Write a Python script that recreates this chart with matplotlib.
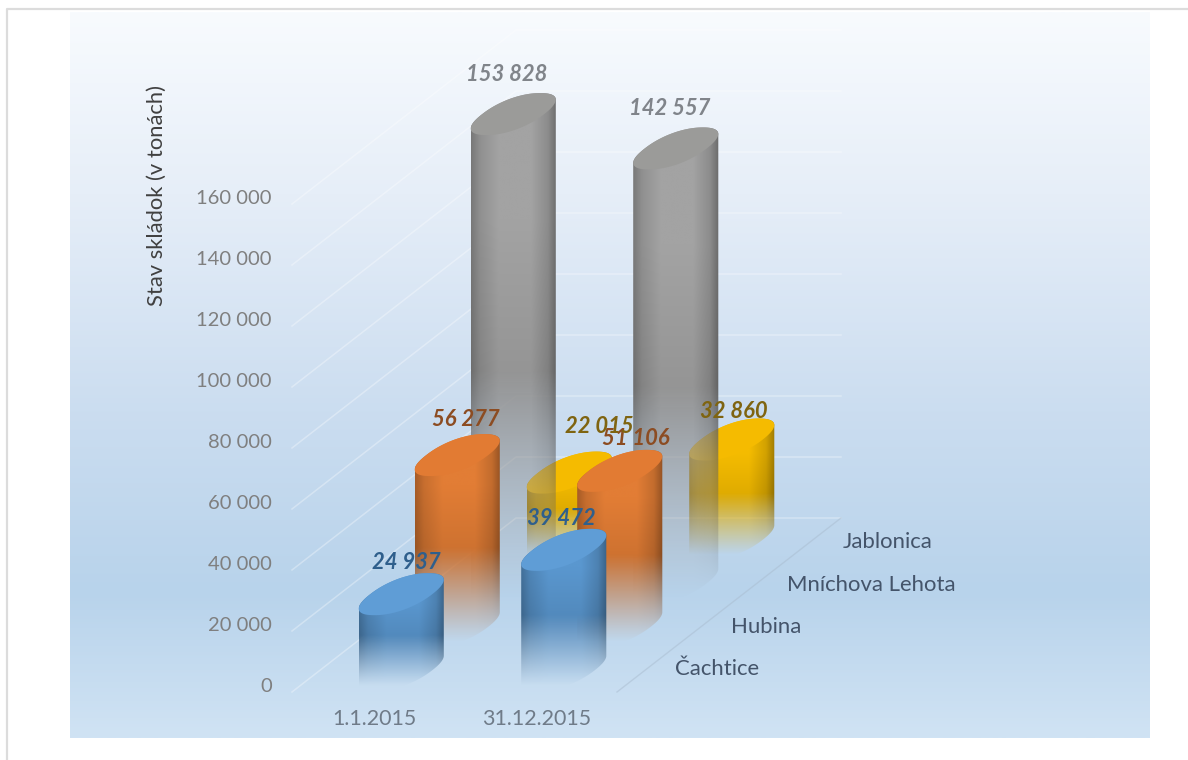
import numpy as np
import matplotlib
matplotlib.use("Agg")
import matplotlib.pyplot as plt
from matplotlib.colors import LinearSegmentedColormap, to_rgb
from matplotlib.patches import Polygon

plt.rcParams['font.family'] = ['Lato', 'DejaVu Sans']

# data
dates = ["1.1.2015", "31.12.2015"]
locations = ["Čachtice", "Hubina", "Mníchova Lehota", "Jablonica"]
cachtice = [24937, 39472]
hubina = [56277, 51106]
mnichova = [153828, 142557]
jablonica = [22015, 32860]
value_ticks = [0, 20000, 40000, 60000, 80000, 100000, 120000, 140000, 160000]

series = [cachtice, hubina, mnichova, jablonica]
body_colors = ["#5a97cf", "#e27d35", "#a3a3a3", "#f5bc00"]
cap_colors = ["#5f9dd6", "#e27b33", "#9b9b99", "#f5bb00"]
label_colors = ["#2f5f8c", "#8c4c22", "#80848a", "#7f6410"]
# hand placed labels, offset from the top of each cylinder
label_offsets = [[(5, -32), (-2, -31)], [(9, -36), (16, -32)],
                 [(-7, -40), (-6, -40)], [(30, -46), (2, -28)]]

# oblique projection, in picture pixels
X0, Y0 = 292, 692
CAT_W = 162.5
DX, DY = 56, -43.5
PX_PER_UNIT = 61 / 20000
A, B, C = 31.0, 27.0, 21.0
ROUND = 0.9  # below 1 the caps come out fuller than a true ellipse


def project(cat, depth, value=0):
    return (X0 + cat * CAT_W + depth * DX,
            Y0 + depth * DY - value * PX_PER_UNIT)


def cap_edge(cx, cy, theta):
    c = np.sign(np.cos(theta)) * np.abs(np.cos(theta)) ** ROUND
    s = np.sign(np.sin(theta)) * np.abs(np.sin(theta)) ** ROUND
    return cx + A * c + B * s, cy - C * s


def thousands(v):
    return f"{v:,}".replace(",", " ")


def draw_cylinder(ax, cat, depth, value, body, cap, z):
    cx, base_y = project(cat + 0.5, depth + 0.5)
    top_y = base_y - value * PX_PER_UNIT

    # where the cap reaches furthest to the right
    th = np.linspace(0, 2 * np.pi, 721)
    ex, _ = cap_edge(0, 0, th)
    th0 = th[np.argmax(ex)]
    half_w = ex.max()

    # outline: upper arc of the top, lower arc of the base
    th_up = np.linspace(th0, th0 + np.pi, 80)
    th_down = np.linspace(th0 + np.pi, th0 + 2 * np.pi, 80)
    xt, yt = cap_edge(cx, top_y, th_up)
    xb, yb = cap_edge(cx, base_y, th_down)
    outline = np.column_stack([np.r_[xt, xb], np.r_[yt, yb]])

    y_top = top_y - C
    y_bot = base_y + C * 0.75
    rows = 300
    u = np.linspace(0, 1, 90)
    shade = np.interp(u, [0, 0.1, 0.32, 0.7, 0.9, 1],
                      [0.74, 0.88, 1.0, 1.0, 0.86, 0.66])
    t = np.linspace(1, 0, rows)  # 1 at the top of the cylinder
    alpha = np.clip(t / 0.45, 0, 1) ** 1.1
    dim = np.interp(t, [0.4, 0.75], [0.9, 1.0])

    rgba = np.zeros((rows, u.size, 4))
    for k, c in enumerate(to_rgb(body)):
        rgba[:, :, k] = np.clip(c * shade[None, :] * dim[:, None], 0, 1)
    rgba[:, :, 3] = alpha[:, None]

    im = ax.imshow(rgba, extent=(cx - half_w, cx + half_w, y_bot, y_top),
                   origin="upper", aspect="auto", zorder=z, interpolation="bilinear")
    patch = Polygon(outline, closed=True, transform=ax.transData, fc="none", ec="none")
    ax.add_patch(patch)
    im.set_clip_path(patch)

    # flat top
    xc, yc = cap_edge(cx, top_y, np.linspace(0, 2 * np.pi, 160))
    ax.fill(xc, yc, color=cap, lw=0, zorder=z + 0.1)


fig = plt.figure(figsize=(11.88, 7.6), dpi=100, facecolor="white")
ax = fig.add_axes([0, 0, 1, 1])
ax.axis("off")

# chart background
bg = LinearSegmentedColormap.from_list(
    "bg", [(0, "#f8fbfe"), (0.25, "#e6eef8"), (0.55, "#cbddf0"),
           (0.8, "#b8d3eb"), (1, "#d0e3f4")])
ax.imshow(np.linspace(0, 1, 256)[:, None], cmap=bg, extent=(70, 1150, 738, 12),
          origin="upper", aspect="auto", zorder=0)

# picture frame, only the left and top edges show
ax.plot([7, 7, 1188], [760, 9, 9], color="#dcdcdc", lw=1.6, zorder=1)

# walls: gridlines on the left and back sides
n_cat, n_depth = len(dates), len(locations)
for v in value_ticks:
    xs, ys = zip(project(0, 0, v), project(0, n_depth, v), project(n_cat, n_depth, v))
    ax.plot(xs, ys, color="white", lw=1.1, alpha=0.32, zorder=1)
    x, y = project(0, 0, v)
    ax.text(x - 20, y - 5.5, thousands(v), ha="right", va="center", fontsize=14.5,
            color="#7f7f7f", zorder=20)

# floor edge
xs, ys = zip(project(n_cat, 0), project(n_cat, n_depth))
ax.plot(xs, ys, color="#a9bccf", lw=1, alpha=0.5, zorder=1)

# back to front so the faded feet show what is behind
z = 2
for j in range(n_depth - 1, -1, -1):
    for i in range(n_cat):
        draw_cylinder(ax, i, j, series[j][i], body_colors[j], cap_colors[j], z)
        z += 1

for j in range(n_depth):
    for i in range(n_cat):
        cx, cy = project(i + 0.5, j + 0.5, series[j][i])
        dx, dy = label_offsets[j][i]
        ax.text(cx + dx, cy + dy, thousands(series[j][i]), ha="center", va="center",
                fontsize=15.8, fontweight="bold", fontstyle="italic",
                color=label_colors[j], zorder=30)

# category labels
for i, name in enumerate(dates):
    x, y = project(i + 0.5, 0)
    ax.text(x + 1, y + 27, name, ha="center", va="center", fontsize=15.4,
            color="#6f7b88", zorder=20)
for j, name in enumerate(locations):
    x, y = project(n_cat, j + 0.5)
    ax.text(x + 30, y - 1 + 1.2 * j, name, ha="left", va="center", fontsize=15.9,
            color="#44546a", zorder=20)

ax.text(157, 196, "Stav skládok (v tonách)", rotation=90, ha="center", va="center",
        fontsize=15.8, color="#404040", zorder=20)

ax.set_xlim(0, 1188)
ax.set_ylim(760, 0)
fig.savefig("out.png", dpi=100)
